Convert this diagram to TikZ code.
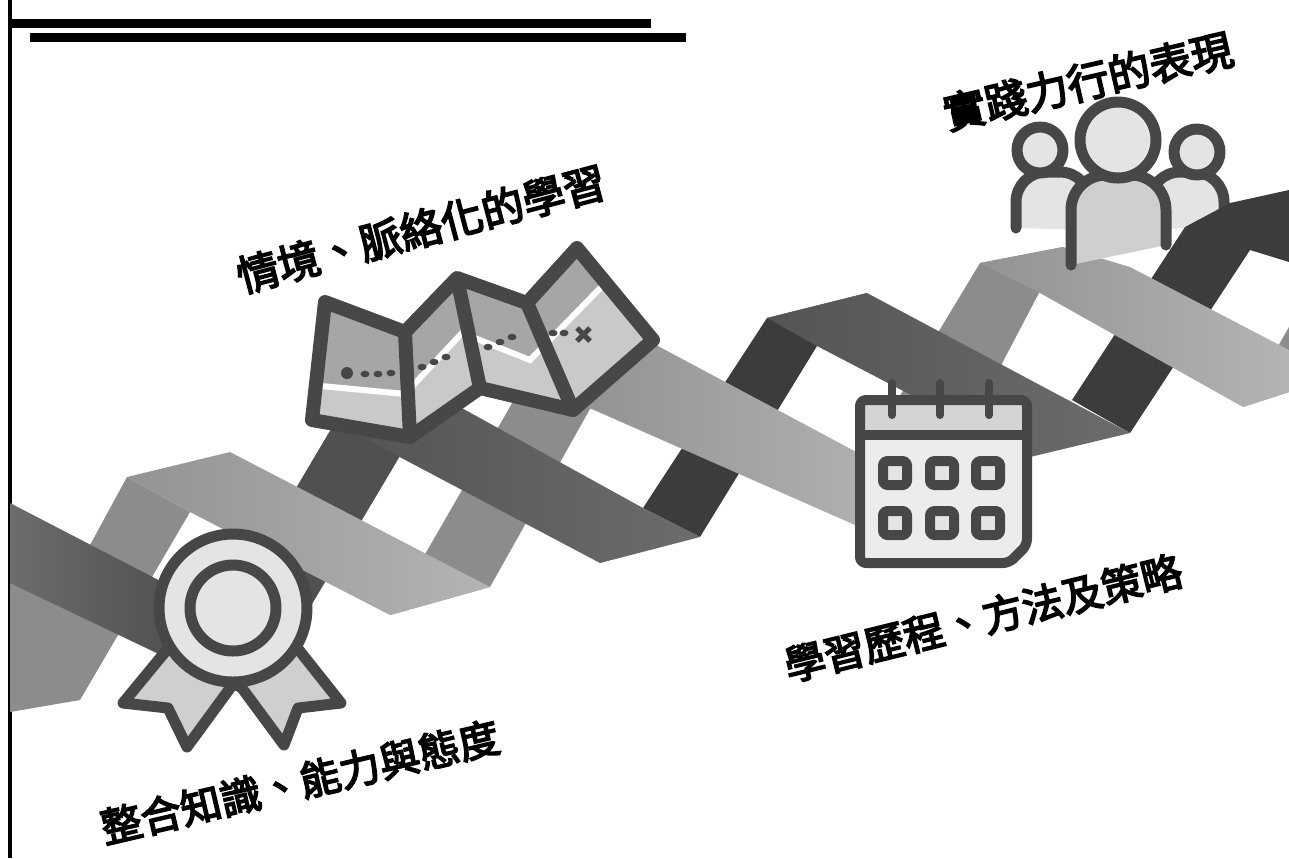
\documentclass[tikz,border=0pt]{standalone}
\usepackage{fontspec}
\newfontfamily\cjk{Noto Sans CJK TC}[FakeBold=4]
\usepackage{xcolor}
\definecolor{iconLine}{HTML}{474747}
\definecolor{darkSteep}{HTML}{3C3C3C}
\definecolor{darkBandA}{HTML}{545454}
\definecolor{darkBandB}{HTML}{6C6C6C}
\definecolor{lightSteep}{HTML}{8C8C8C}
\definecolor{lightBandA}{HTML}{939393}
\definecolor{lightBandB}{HTML}{B4B4B4}
\definecolor{paleFill}{HTML}{E4E4E4}
\definecolor{midFill}{HTML}{CFCFCF}
\definecolor{mapHigh}{HTML}{A6A6A6}
\definecolor{mapLow}{HTML}{C9C9C9}
\usetikzlibrary{calc}

\begin{document}
\begin{tikzpicture}[x=0.1mm, y=-0.1mm,
  caption/.style={font=\cjk\fontsize{12}{14}\selectfont, inner sep=0pt},
  iconline/.style={draw=iconLine, line width=1.1mm, line join=round},
  person/.style={iconline, line cap=round, rounded corners=3mm}]
  \useasboundingbox (0,0) rectangle (1289,858);

  % Frame bars
  \draw[line width=0.45mm] (10,0) -- (10,858);
  \fill (10,19) rectangle (651,28);
  \fill (30,33) rectangle (686,42);

  % Right-hand person sits behind the last fold
  \filldraw[fill=paleFill, person] (1150,230) -- (1150,172) -- (1224,172) -- (1224,226);
  \filldraw[fill=paleFill, iconline] (1197,152) circle (2.3mm);

  % Ribbons, steep parts
  \fill[lightSteep] (127,477) -- (190,512) -- (80,700) -- (10,712) -- (10,580) -- (90,545) -- cycle;
  \fill[lightSteep] (390,615) -- (560,320) -- (640,320) -- (490,587) -- cycle;
  \fill[lightSteep] (840,495) -- (980,263) -- (1063,247) -- (940,482) -- cycle;
  \fill[lightSteep] (1243,407) -- (1289,327) -- (1289,392) -- cycle;
  \fill[darkSteep!90!white] (222,613) -- (350,397) -- (435,397) -- (255,700) -- cycle;
  \fill[darkSteep] (643,508) -- (767,318) -- (867,293) -- (817,346) -- (700,537) -- cycle;
  \fill[darkSteep] (1072,400) -- (1185,227) -- (1230,203) -- (1289,190) -- (1289,262) -- (1250,250) -- (1130,433) -- cycle;

  % Ribbons, shallow parts
  \shade[left color=lightBandA, right color=lightBandB] (127,477) -- (230,452) -- (490,587) -- (390,615) -- (190,512) -- cycle;
  \shade[left color=lightBandA, right color=lightBandB] (600,315) -- (905,478) -- (880,536) -- (585,406) -- cycle;
  \shade[left color=lightBandA, right color=lightBandB] (980,263) -- (1063,247) -- (1130,267) -- (1289,350) -- (1289,392) -- (1243,407) -- (1040,293) -- cycle;
  \shade[left color=darkBandB, right color=darkBandA!80!black] (10,503) -- (222,613) -- (255,700) -- (10,583) -- cycle;
  \shade[left color=darkBandA, right color=darkBandB] (350,400) -- (440,396) -- (643,508) -- (700,537) -- (600,563) -- (360,436) -- cycle;
  \shade[left color=darkBandA, right color=darkBandB] (767,318) -- (867,293) -- (1130,433) -- (1030,457) -- (817,346) -- cycle;

  % Badge
  \filldraw[fill=midFill, iconline] (175,640) -- (123,703) -- (168,708) -- (187,747) -- (236,680) -- cycle;
  \filldraw[fill=midFill, iconline] (291,640) -- (341,703) -- (298,708) -- (284,745) -- (236,680) -- cycle;
  \filldraw[fill=paleFill, iconline] (233,608) circle (7.4mm);
  \filldraw[fill=paleFill, iconline] (233,608) circle (4.3mm);

  % Folded map
  \coordinate (m0) at (325,302);
  \coordinate (m1) at (405,332);
  \coordinate (m2) at (457,278);
  \coordinate (m3) at (527,303);
  \coordinate (m4) at (577,248);
  \coordinate (m5) at (653,340);
  \coordinate (m6) at (573,410);
  \coordinate (m7) at (480,388);
  \coordinate (m8) at (410,437);
  \coordinate (m9) at (312,420);
  \begin{scope}
    \clip (m0) -- (m1) -- (m2) -- (m3) -- (m4) -- (m5) -- (m6) -- (m7) -- (m8) -- (m9) -- cycle;
    \fill[mapLow] (300,230) rectangle (670,450);
    \fill[mapHigh] (300,381) -- (405,391) -- (462,330) -- (530,357) -- (610,275) -- (670,275) -- (670,230) -- (300,230) -- cycle;
    \draw[white, line width=0.6mm] (300,384) -- (405,394) -- (462,333) -- (530,360) -- (610,278) -- (670,278);
  \end{scope}
  \fill[iconLine] (347,373) circle (0.6mm);
  \foreach \px/\py in {365/374, 378/374, 391/373, 422/367, 434/362, 446/357, 488/347, 500/342, 512/337, 553/333, 564/333}
    \fill[iconLine] (\px,\py) ellipse (0.45mm and 0.33mm);
  \draw[iconLine, line width=0.5mm] (577,328) -- (590,341) (577,341) -- (590,328);
  \draw[iconline, line width=1.4mm] (m0) -- (m1) -- (m2) -- (m3) -- (m4) -- (m5) -- (m6) -- (m7) -- (m8) -- (m9) -- cycle;
  \draw[iconline, line width=1.4mm] (m1) -- (m8) (m2) -- (m7) (m3) -- (m6);

  % Calendar
  \fill[paleFill!70!white, rounded corners=0.6mm] (860,400) -- (1027,400) -- (1027,545) -- (1009,563) -- (860,563) -- cycle;
  \fill[midFill!90!white] (860,400) rectangle (1027,435);
  \draw[iconline, line width=1mm, rounded corners=0.6mm] (860,400) -- (1027,400) -- (1027,545) -- (1009,563) -- (860,563) -- cycle;
  \draw[iconline, line width=1mm] (860,435) -- (1027,435);
  \foreach \hx in {892,940,989}
    \draw[iconline, line width=0.8mm, line cap=round] (\hx,383) -- (\hx,415);
  \foreach \cx in {895,942,988}
    \foreach \cy in {473,523}
      \filldraw[fill=paleFill, iconline, line width=1mm, rounded corners=0.4mm] (\cx-12,\cy-12) rectangle (\cx+12,\cy+12);

  % People
  \filldraw[fill=paleFill, person] (1016,228) -- (1016,172) -- (1090,172) -- (1090,230);
  \filldraw[fill=paleFill, iconline] (1040,150) circle (2.3mm);
  \filldraw[fill=midFill, person, rounded corners=3.5mm] (1071,265) -- (1071,175) -- (1166,175) -- (1166,245);
  \filldraw[fill=paleFill, iconline] (1118,140) circle (3.8mm);

  % Labels
  \node[caption, rotate=14.8] (context) at (421,229) {情境、脈絡化的學習};
  \node[caption, rotate=13] (practice) at (1088,81) {實踐力行的表現};
  \node[caption, rotate=13.8, font=\cjk\fontsize{11.6}{14}\selectfont] (process) at (983,618) {學習歷程、方法及策略};
  \node[caption, rotate=13.2, font=\cjk\fontsize{11.6}{14}\selectfont] (integrate) at (300,782) {整合知識、能力與態度};
\end{tikzpicture}
\end{document}
